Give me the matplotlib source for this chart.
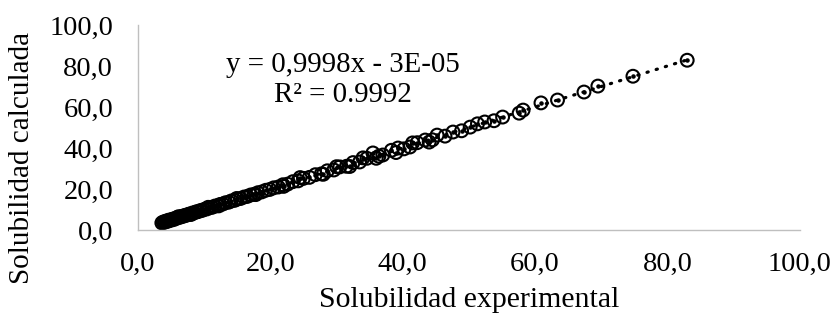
import matplotlib.pyplot as plt
import numpy as np

# Solubility data: experimental vs calculated
sol_exp = [3.6, 3.8, 4.0, 4.1, 4.3, 4.5, 4.6, 4.8, 5.0, 5.2, 5.4, 5.6, 5.8, 6.0,
           6.3, 6.5, 6.8, 7.0, 7.3, 7.6, 7.9, 8.2, 8.5, 8.8, 9.1, 9.4, 9.7, 10.0,
           10.4, 10.8, 11.2, 11.6, 12.0, 12.4, 12.8, 13.2, 13.7, 14.1, 14.6, 15.0,
           15.5, 16.0, 16.5, 17.0, 17.5, 18.1, 18.7, 19.3, 19.9, 20.5, 21.2, 21.9,
           22.6, 23.4, 24.2, 25.0, 25.9, 26.8, 27.7, 28.6, 29.6, 30.5, 31.5, 32.5,
           33.5, 34.6, 35.5, 36.4, 37.0, 38.3, 39.3, 40.2, 41.1, 42.2, 43.4, 44.5,
           45.2, 46.4, 47.6, 48.9, 50.2, 51.3, 52.4, 53.8, 55.1, 57.6, 58.2, 60.9,
           63.4, 67.4, 69.5, 74.8, 83.0,
           22.0, 24.5, 28.0, 30.0, 32.0, 34.0, 36.0, 39.0, 41.5, 44.0,
           6.1, 8.0, 10.6, 12.2, 14.9, 17.8]
sol_calc = [3.5, 3.9, 3.8, 4.2, 4.4, 4.3, 4.8, 4.7, 5.1, 5.0, 5.5, 5.4, 5.9, 6.1,
            6.2, 6.6, 6.7, 7.1, 7.2, 7.7, 7.8, 8.3, 8.4, 8.9, 9.0, 9.5, 9.6, 10.1,
            10.3, 10.9, 11.1, 11.7, 11.9, 12.5, 12.7, 13.3, 13.6, 14.2, 14.5, 15.1,
            15.4, 16.1, 16.4, 17.1, 17.4, 18.2, 18.6, 19.4, 19.8, 20.6, 21.0, 22.1,
            22.4, 23.6, 24.0, 25.2, 25.7, 27.0, 27.4, 28.9, 29.3, 30.8, 31.1, 32.9,
            33.2, 35.0, 37.6, 36.0, 36.6, 38.9, 40.0, 39.6, 40.5, 42.6, 43.9, 44.0,
            46.3, 45.8, 47.8, 48.4, 50.2, 51.8, 52.7, 53.3, 55.1, 57.0, 58.5, 62.0,
            63.4, 67.3, 70.2, 75.0, 82.8,
            21.3, 25.6, 27.2, 30.9, 31.0, 35.2, 35.0, 37.8, 42.5, 42.9,
            6.5, 7.6, 11.1, 11.8, 15.4, 17.3]

slope = 0.9998
intercept = -3e-05

plt.rcParams['font.family'] = ['Liberation Serif', 'DejaVu Serif']
fig = plt.figure(figsize=(8.33, 3.2), dpi=100)
ax = fig.add_axes([0.1657, 0.281, 0.7943, 0.641])

# dotted linear trend line
xl = np.array([min(sol_exp), max(sol_exp)])
ax.plot(xl, slope * xl + intercept, color='black', linestyle=(0, (0.4, 2.6)),
        linewidth=2.3, dash_capstyle='round', zorder=1)

# open circles with a centre dot
ax.scatter(sol_exp, sol_calc, s=85, facecolors='none', edgecolors='black',
           linewidths=1.5, zorder=2)
ax.scatter(sol_exp, sol_calc, s=5, color='black', zorder=3)

ax.set_xlim(0, 100)
ax.set_ylim(0, 100)
ticks = [0, 20, 40, 60, 80, 100]
labels = ['0,0', '20,0', '40,0', '60,0', '80,0', '100,0']
ax.set_xticks(ticks)
ax.set_xticklabels(labels)
ax.set_yticks(ticks)
ax.set_yticklabels(labels)
ax.tick_params(axis='both', length=0, labelsize=20.5)
ax.tick_params(axis='x', pad=16)
ax.tick_params(axis='y', pad=18)

for s in ['top', 'right']:
    ax.spines[s].set_visible(False)
for s in ['left', 'bottom']:
    ax.spines[s].set_color('#bfbfbf')
    ax.spines[s].set_linewidth(1.0)

ax.set_xlabel('Solubilidad experimental', fontsize=21.5, labelpad=7)
ax.set_ylabel('Solubilidad calculada', fontsize=21)
ax.yaxis.set_label_coords(-0.155, 0.35)

ax.text(0.31, 0.73, 'y = 0,9998x - 3E-05\nR² = 0.9992', transform=ax.transAxes,
        ha='center', va='center', fontsize=20.8, linespacing=1.2)

fig.savefig('out.png', dpi=100)
